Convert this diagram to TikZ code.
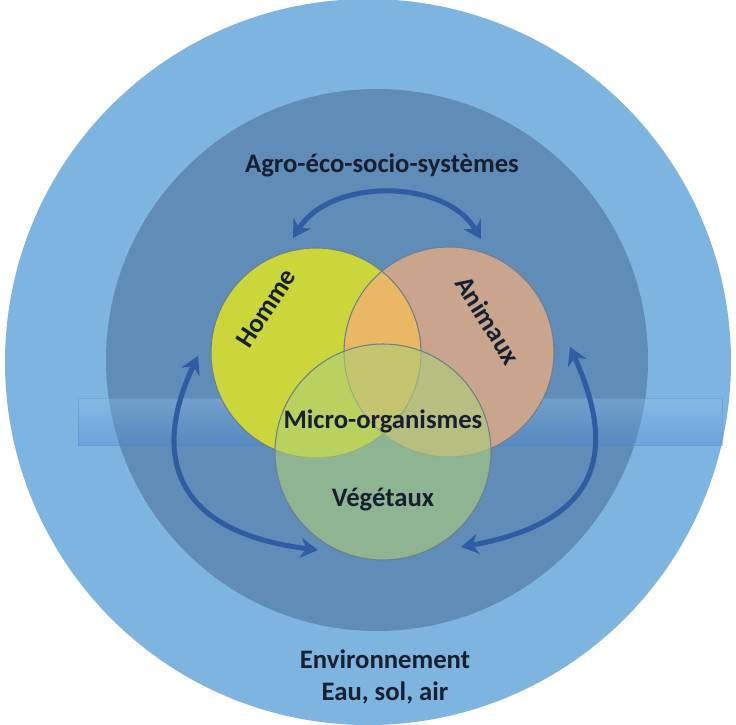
\documentclass[tikz,border=0pt]{standalone}
\usepackage{fontspec}
\setmainfont{Carlito}
\usetikzlibrary{arrows.meta}
\definecolor{outerblue}{RGB}{126,180,224}
\definecolor{innerblue}{RGB}{96,140,184}
\definecolor{hommecol}{RGB}{202,214,58}
\definecolor{animcol}{RGB}{201,165,142}
\definecolor{overlapcol}{RGB}{234,184,100}
\definecolor{vegcol}{RGB}{174,207,119}
\definecolor{arrowcol}{RGB}{47,93,163}
\definecolor{txtcol}{RGB}{22,32,48}
\definecolor{edgecol}{RGB}{110,128,140}
\definecolor{bandtop}{RGB}{150,198,238}
\definecolor{bandbot}{RGB}{70,135,210}
\tikzset{
  lbl/.style={font=\fontsize{20}{24}\selectfont\bfseries, text=txtcol, inner sep=0pt},
  ring/.style={draw=edgecol, line width=0.8pt},
  flow/.style={draw=arrowcol, line width=3.8pt, {Stealth[length=13pt,width=15pt]}-{Stealth[length=13pt,width=15pt]}}
}
\begin{document}
\begin{tikzpicture}[x=0.75pt,y=-0.75pt]
\useasboundingbox (0,0) rectangle (736,725);
% outer and inner discs
\fill[outerblue] (368,362) circle (363);
\fill[innerblue] (377,360) circle (271);
% horizontal band
\shade[top color=bandtop, bottom color=bandbot, opacity=0.35] (78,398) rectangle (722,445);
\draw[draw=bandbot, line width=0.6pt, opacity=0.35] (78,398) rectangle (722,445);
% centres
\coordinate (ch) at (316,353);
\coordinate (ca) at (449,352);
\coordinate (cv) at (383,452);
% circles
\fill[hommecol] (ch) circle (105);
\fill[animcol] (ca) circle (105);
\begin{scope}
  \clip (ch) circle (105);
  \fill[overlapcol] (ca) circle (105);
\end{scope}
\draw[ring] (ch) circle (105);
\draw[ring] (ca) circle (105);
\fill[vegcol, fill opacity=0.6] (cv) circle (108);
\draw[ring] (cv) circle (108);
% labels
\node[lbl] (agro) at (382,165) {Agro-éco-socio-systèmes};
\node[lbl, rotate=57] (homme) at (266,308) {Homme};
\node[lbl, rotate=-58] (animaux) at (488,320) {Animaux};
\node[lbl] (micro) at (383,421) {Micro-organismes};
\node[lbl] (veg) at (383,500) {Végétaux};
\node[lbl, align=center, font=\fontsize{20}{24}\selectfont\bfseries] (env) at (385,677) {Environnement\\Eau, sol, air};
% arrows
\coordinate (t1) at (293,238);
\coordinate (t2) at (481,239);
\coordinate (l1) at (198,356);
\coordinate (l2) at (318,550);
\coordinate (r1) at (570,347);
\coordinate (r2) at (461,547);
\draw[flow] (t1) .. controls (330,178) and (445,178) .. (t2);
\draw[flow] (l1) .. controls (158,440) and (158,530) .. (l2);
\draw[flow] (r1) .. controls (612,440) and (612,520) .. (r2);
\end{tikzpicture}
\end{document}
